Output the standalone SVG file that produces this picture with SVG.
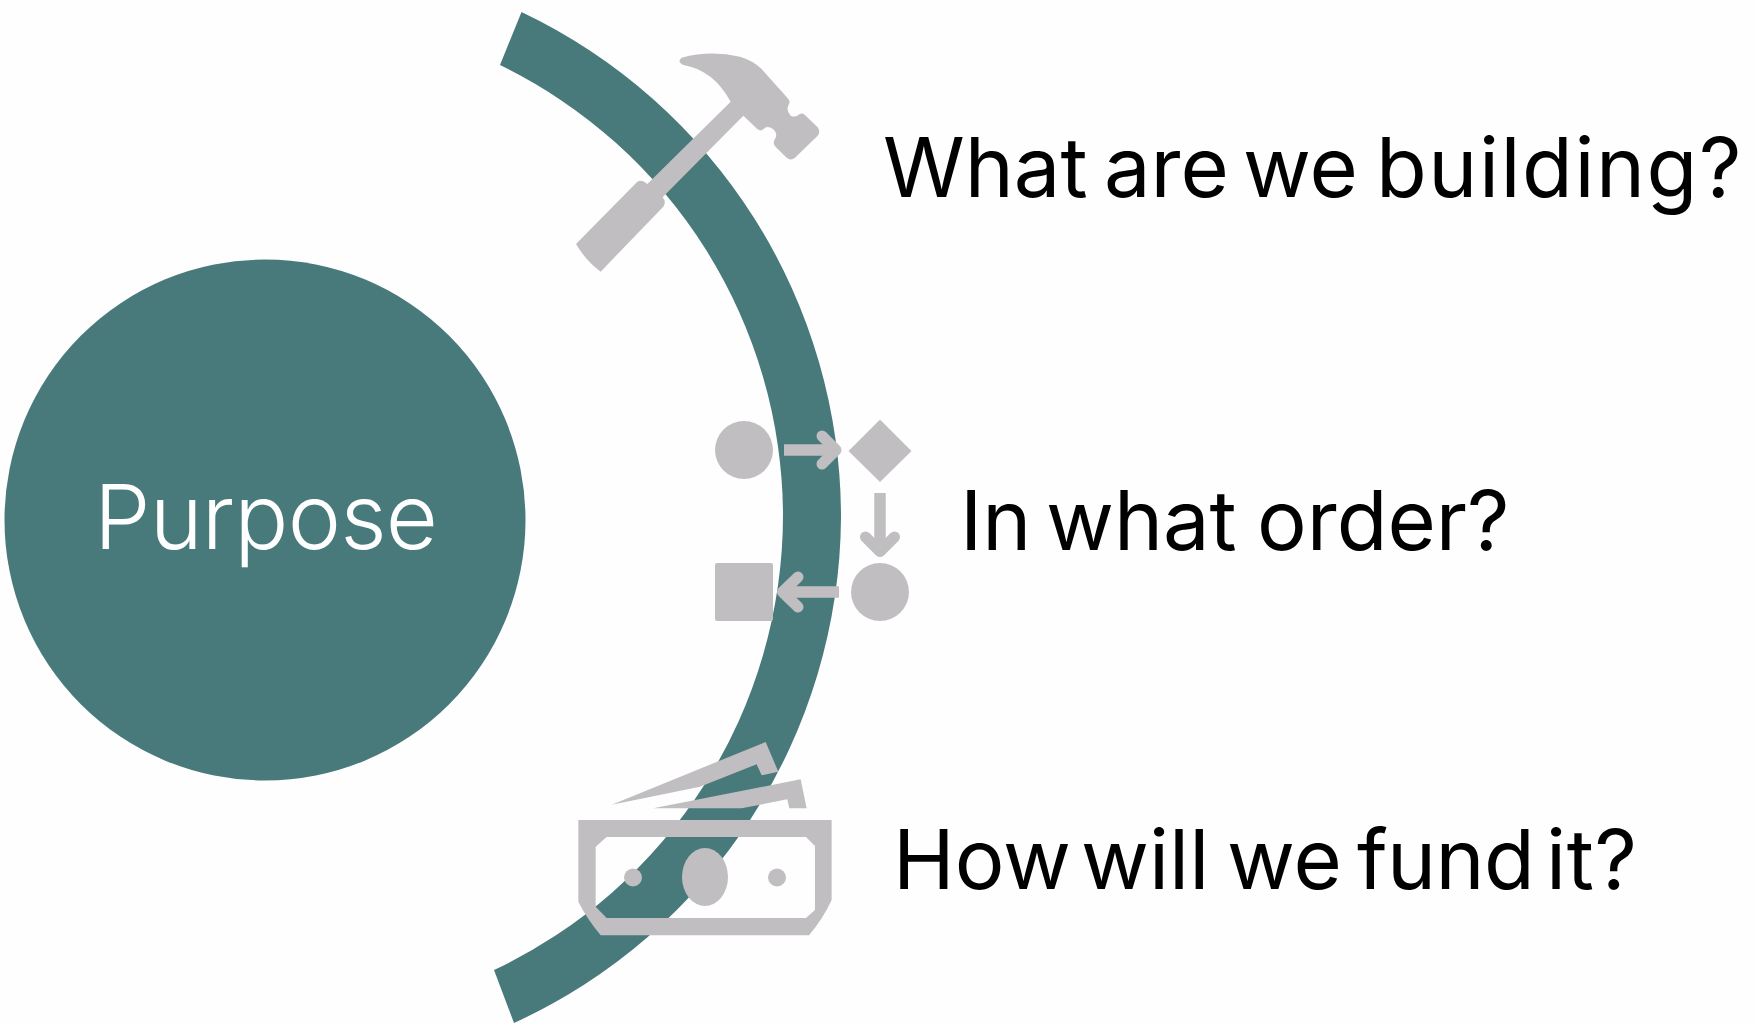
<svg xmlns="http://www.w3.org/2000/svg" width="1754" height="1024" viewBox="0 0 1754 1024">
<style>
.t{font-family:"Inter","Liberation Sans",sans-serif;font-size:83px;fill:#000;font-weight:370}
.g{fill:#c0bec1}
.a{fill:none;stroke:#c0bec1;stroke-width:11;stroke-linecap:round;stroke-linejoin:round}
.s{fill:none;stroke:#c0bec1;stroke-width:11.500}
</style>
<rect id="background" width="1754" height="1024" fill="#fefefe"/>
<g id="connectors">
<path id="arc" fill="#497a7b" d="M521.500 12A559.600 559.600 0 0 1 841 518A559.600 559.600 0 0 1 514 1023L494 970A503 503 0 0 0 783 515A503 503 0 0 0 500 65Z"/>
</g>
<g id="purpose">
<circle cx="265" cy="520" r="260.500" fill="#497a7b"/>
<text x="94" y="549" textLength="344" lengthAdjust="spacing" class="t" style="fill:#fff;font-size:90px;font-weight:340">Purpose</text>
</g>
<g id="hammer">
<path class="g" transform="translate(550 30) scale(.3333)" d="M395 83Q480 60 570 80Q610 92 635 117L712 203Q722 213 717 222Q706 240 722 257Q738 264 748 253Q756 247 764 254L803 292Q813 305 803 317L735 383Q722 394 710 383L678 352Q666 340 675 327Q685 310 668 296Q650 285 640 298Q632 305 622 297L580 257L338 502Q350 515 340 530L152 725Q108 693 78 642L262 455Q275 447 292 462L542 215Q490 120 400 105Q380 95 395 83Z"/>
</g>
<g id="order">
<circle class="g" cx="744" cy="450" r="29"/>
<path class="g" d="M880 419.500L911.500 451L880 482L848.500 451Z"/>
<circle class="g" cx="880" cy="592" r="29"/>
<rect class="g" x="715" y="563" width="58" height="58" rx="2"/>
<path class="s" d="M784 450H834M880 493V550M839 592H786"/>
<path class="a" d="M822 436L836 450L822 464M865.500 537L880 551.500L894.500 537M798 577L782.500 592L798 607"/>
</g>
<g id="money">
<path class="g" fill-rule="evenodd" transform="translate(560 720) scale(.3333)" d="M55 300H815V540Q790 595 747 646H122Q80 595 55 545ZM140 351L107 380V560L140 594H738L765 570V378L738 351Z"/>
<ellipse class="g" cx="705" cy="877" rx="23" ry="29"/>
<circle class="g" cx="633" cy="877.500" r="9"/>
<circle class="g" cx="777" cy="877.500" r="9"/>
<path class="g" transform="translate(560 720) scale(.3333)" d="M155 254L617 66L655 155L605 166L590 133L420 200Z"/>
<path class="g" transform="translate(560 720) scale(.3333)" d="M280 265L722 178L740 265H688L682 238L545 265Z"/>
</g>
<g id="labels">
<text class="t" y="197"><tspan x="883">What</tspan> <tspan x="1104">are</tspan> <tspan x="1243">we</tspan> <tspan x="1376" style="letter-spacing:1.500px">building?</tspan></text>
<text class="t" y="550"><tspan x="960">In</tspan> <tspan x="1046">what</tspan> <tspan x="1257">order?</tspan></text>
<text class="t" y="889"><tspan x="893">How</tspan> <tspan x="1081">will</tspan> <tspan x="1227">we</tspan> <tspan x="1357" style="letter-spacing:-.6px">fund</tspan> <tspan x="1546" style="letter-spacing:.6px">it?</tspan></text>
</g>
</svg>
